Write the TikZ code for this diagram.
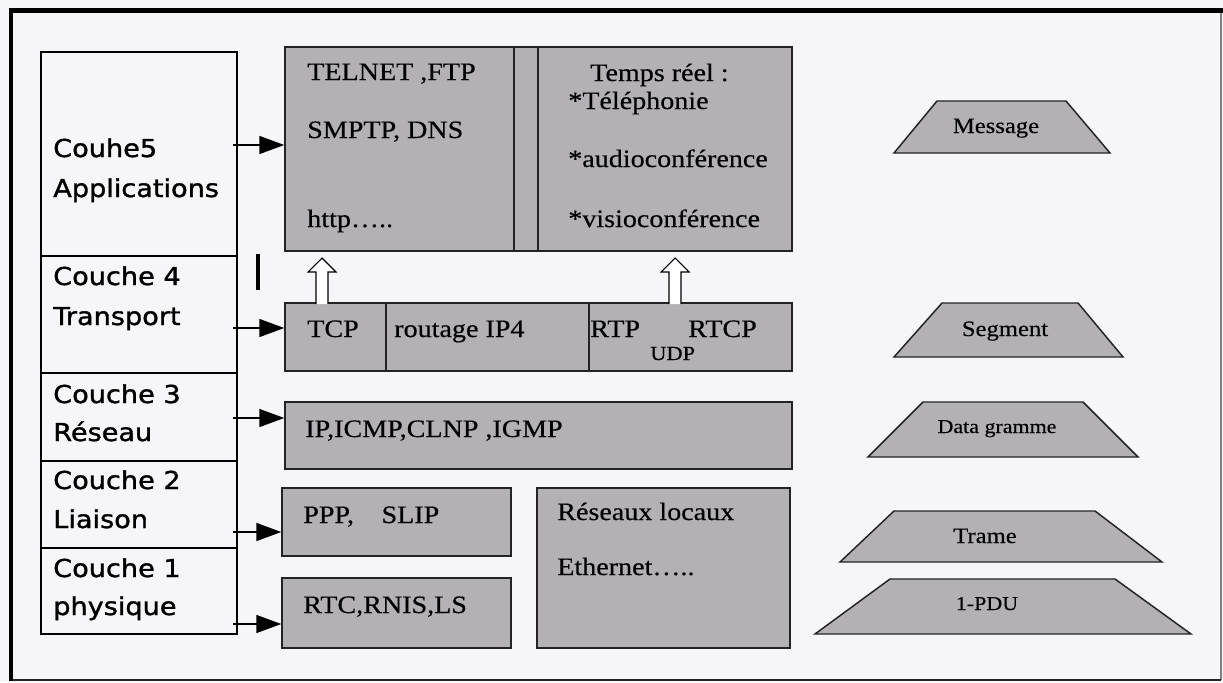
\documentclass[tikz,border=0pt]{standalone}
\usepackage{fontspec}
\setmainfont{Liberation Serif}
\newfontfamily\ser[FakeStretch=1.12,FakeBold=0.4]{Liberation Serif}
\newfontfamily\lay[FakeStretch=1.1,FakeBold=1.3]{DejaVu Sans}
\usetikzlibrary{arrows.meta,fit}
\definecolor{bg}{RGB}{246,246,248}
\definecolor{boxgray}{RGB}{180,177,182}
\definecolor{edge}{RGB}{35,35,35}
\tikzset{
  box/.style={draw=edge, fill=boxgray, line width=1.1pt, inner sep=0pt, rectangle},
  cell/.style={draw=black, line width=0.9pt, inner sep=0pt, rectangle},
  lbl/.style={anchor=base west, inner sep=0pt, text=black, font=\ser\fontsize{18.8}{20}\selectfont},
  small/.style={anchor=base west, inner sep=0pt, text=black, font=\ser\fontsize{15}{16}\selectfont},
  lay/.style={anchor=base west, inner sep=0pt, text=black, font=\lay\fontsize{18.5}{20}\selectfont},
  plbl/.style={anchor=base, inner sep=0pt, text=black, font=\ser\fontsize{16.5}{18}\selectfont},
  psmall/.style={anchor=base, inner sep=0pt, text=black, font=\ser\fontsize{14.7}{16}\selectfont},
  arr/.style={line width=1.2pt, -{Triangle[length=18.75pt,width=13.5pt]}},
  pdu/.style={draw=edge, fill=boxgray, line width=1.1pt},
  hollow/.style={draw=black, fill=white, line width=0.8pt},
}
\begin{document}
\begin{tikzpicture}[x=0.75pt,y=-0.75pt]
\useasboundingbox (0,0) rectangle (1223,682);
\fill[bg] (0,0) rectangle (1223,682);
% outer frame
\draw[gray, line width=0.8pt] (1221,10) -- (1221,680);
\draw[edge, line width=1.2pt] (11,680) -- (1221,680);
\draw[black, line width=3.4pt] (11,681) -- (11,10.5) -- (1223,10.5);

% left layer column
\node[cell, fit={(41,52) (237,256)}] (c5) {};
\node[cell, fit={(41,256) (237,373)}] (c4) {};
\node[cell, fit={(41,373) (237,461)}] (c3) {};
\node[cell, fit={(41,461) (237,548)}] (c2) {};
\node[cell, fit={(41,548) (237,634)}] (c1) {};
\node[lay] (t5a) at (53,157) {Couhe5};
\node[lay] (t5b) at (53,197) {Applications};
\node[lay] (t4a) at (53,285) {Couche 4};
\node[lay] (t4b) at (53,325) {Transport};
\node[lay] (t3a) at (53,403) {Couche 3};
\node[lay] (t3b) at (53,441) {Réseau};
\node[lay] (t2a) at (53,489) {Couche 2};
\node[lay] (t2b) at (53,528) {Liaison};
\node[lay] (t1a) at (53,577) {Couche 1};
\node[lay] (t1b) at (53,615) {physique};

% protocol boxes
\node[box, fit={(285,47) (514,251)}] (app1) {};
\node[box, fit={(514,47) (538,251)}] (appm) {};
\node[box, fit={(538,47) (792,251)}] (app2) {};
\node[box, fit={(285,303) (386,371)}] (tcp) {};
\node[box, fit={(386,303) (589,371)}] (rout) {};
\node[box, fit={(589,303) (792,371)}] (udp) {};
\node[box, fit={(285,402) (792,469)}] (net) {};
\node[box, fit={(282,488) (511,556)}] (liai) {};
\node[box, fit={(282,578) (511,648)}] (phys) {};
\node[box, fit={(537,488) (790,648)}] (lan) {};

\node[lbl] (x1) at (307,80) {TELNET ,FTP};
\node[lbl] (x2) at (307,138) {SMPTP, DNS};
\node[lbl] (x3) at (307,227) {http…..};
\node[lbl] (x4) at (590,81) {Temps réel :};
\node[lbl] (x5) at (568,109) {*Téléphonie};
\node[lbl] (x6) at (568,167) {*audioconférence};
\node[lbl] (x7) at (568,227) {*visioconférence};
\node[lbl] (x8) at (307,337) {TCP};
\node[lbl] (x9) at (394,337) {routage IP4};
\node[lbl] (x10) at (590,337) {RTP};
\node[lbl] (x11) at (688,337) {RTCP};
\node[small] (x12) at (650,360) {UDP};
\node[lbl] (x13) at (305,437) {IP,ICMP,CLNP ,IGMP};
\node[lbl] (x14) at (303,523) {PPP,\hspace{1.1em}SLIP};
\node[lbl] (x15) at (303,613) {RTC,RNIS,LS};
\node[lbl] (x16) at (557,520) {Réseaux locaux};
\node[lbl] (x17) at (557,575) {Ethernet…..};

% arrows from layers
\coordinate (s5) at (233,145);
\coordinate (s4) at (233,328);
\coordinate (s3) at (233,418);
\coordinate (s2) at (233,532);
\coordinate (s1) at (233,624);
\draw[arr] (s5) -- (app1.west |- s5);
\draw[arr] (s4) -- (tcp.west |- s4);
\draw[arr] (s3) -- (net.west |- s3);
\draw[arr] (s2) -- (liai.west |- s2);
\draw[arr] (s1) -- (phys.west |- s1);

% stray mark
\draw[black, line width=2.4pt] (258,254) -- (258,290);

% hollow up arrows
\filldraw[hollow, shift={(322,304)}] (-6,0) -- (-6,-32) -- (-14,-32) -- (0,-46) -- (14,-32) -- (6,-32) -- (6,0);
\filldraw[hollow, shift={(675,304)}] (-6,0) -- (-6,-32) -- (-14,-32) -- (0,-46) -- (14,-32) -- (6,-32) -- (6,0);

% PDU trapezoids
\filldraw[pdu] (937,101) -- (1066,101) -- (1110,153) -- (894,153) -- cycle;
\node[plbl] (p5) at (996,133) {Message};
\filldraw[pdu] (942,303) -- (1078,303) -- (1123,357) -- (894,357) -- cycle;
\node[plbl] (p4) at (1005,336) {Segment};
\filldraw[pdu] (923,402) -- (1083,402) -- (1138,457) -- (868,457) -- cycle;
\node[psmall] (p3) at (997,433) {Data gramme};
\filldraw[pdu] (894,511) -- (1095,511) -- (1162,562) -- (840,562) -- cycle;
\node[plbl] (p2) at (985,543) {Trame};
\filldraw[pdu] (890,579) -- (1115,579) -- (1191,634) -- (815,634) -- cycle;
\node[psmall] (p1) at (987,610) {1-PDU};
\end{tikzpicture}
\end{document}
